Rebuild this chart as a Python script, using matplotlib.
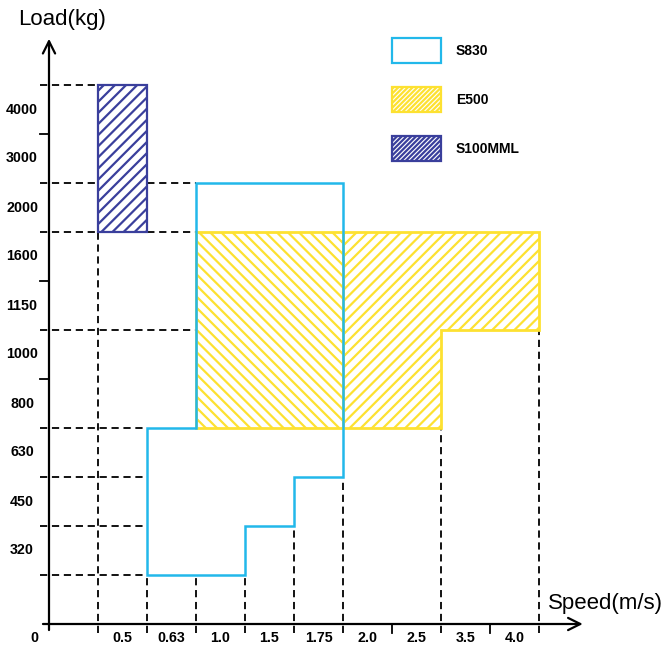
import matplotlib
matplotlib.use('Agg')
from matplotlib import pyplot as plt
from matplotlib.patches import Polygon, Rectangle

plt.rcParams['font.family'] = ['Liberation Sans', 'DejaVu Sans']
plt.rcParams['hatch.linewidth'] = 1.6

# categorical tick labels (one per grid cell)
speed_labels = ['0.5', '0.63', '1.0', '1.5', '1.75', '2.0', '2.5', '3.5', '4.0']
load_labels = ['320', '450', '630', '800', '1000', '1150', '1600', '2000', '3000', '4000']

# working ranges in grid cells (speed index, load index)
s830_x = [2, 4, 4, 5, 5, 6, 6, 3, 3, 2]
s830_y = [1, 1, 2, 2, 3, 3, 9, 9, 4, 4]
e500_left_x = [3, 6, 6, 3]
e500_left_y = [4, 4, 8, 8]
e500_right_x = [6, 8, 8, 10, 10, 6]
e500_right_y = [4, 4, 6, 6, 8, 8]
s100_x = [1, 2, 2, 1]
s100_y = [8, 8, 11, 11]

# dashed guides: level -> how far they reach
guide_h_levels = [1, 2, 3, 4, 6, 8, 9, 11]
guide_h_ends = [2, 2, 2, 2, 3, 3, 3, 1]
guide_v_pos = [1, 2, 3, 4, 5, 6, 8, 10]
guide_v_tops = [8, 1, 1, 1, 2, 3, 4, 6]
tick_x_only = [7, 9]
tick_y_only = [5, 7, 10]

CYAN = '#22b8ea'
YELLOW = '#fde131'
NAVY = '#3a3f9c'

fig = plt.figure(figsize=(6.7, 6.48), dpi=100)
ax = fig.add_axes([0, 0, 1, 1])
ax.set_xlim(-1, 621 / 49)
ax.set_ylim(-24 / 49, 624 / 49)
ax.axis('off')

dash = (0, (4, 2.6))
ext = -0.18

# guides
for lvl, end in zip(guide_h_levels, guide_h_ends):
    ax.plot([ext, end], [lvl, lvl], color='black', lw=1.3, ls=dash, zorder=1)
for pos, top in zip(guide_v_pos, guide_v_tops):
    ax.plot([pos, pos], [ext, top], color='black', lw=1.3, ls=dash, zorder=1)
for pos in tick_x_only:
    ax.plot([pos, pos], [ext, 0], color='black', lw=1.3, zorder=1)
for lvl in tick_y_only:
    ax.plot([ext, 0], [lvl, lvl], color='black', lw=1.3, zorder=1)

# E500
ax.add_patch(Polygon(list(zip(e500_left_x, e500_left_y)), closed=True,
                     facecolor='white', edgecolor=YELLOW, hatch='\\\\\\', lw=2, zorder=2))
ax.add_patch(Polygon(list(zip(e500_right_x, e500_right_y)), closed=True,
                     facecolor='white', edgecolor=YELLOW, hatch='///', lw=2, zorder=2))
# S100MML
ax.add_patch(Polygon(list(zip(s100_x, s100_y)), closed=True,
                     facecolor='white', edgecolor=NAVY, hatch='///', lw=1.6, zorder=2))
# S830
ax.add_patch(Polygon(list(zip(s830_x, s830_y)), closed=True,
                     facecolor='none', edgecolor=CYAN, lw=1.8, zorder=3))

# axes with arrows
arrow = dict(arrowstyle='->', lw=1.6, color='black', mutation_scale=22)
ax.annotate('', xy=(0, 12.0), xytext=(0, ext), arrowprops=arrow, zorder=4)
ax.annotate('', xy=(10.95, 0), xytext=(ext, 0), arrowprops=arrow, zorder=4)

# tick labels
for k, lab in enumerate(speed_labels):
    ax.text(k + 1.5, -0.29, lab, ha='center', va='center', fontsize=10.3, fontweight='bold')
for k, lab in enumerate(load_labels):
    ax.text(-0.55, k + 1.5, lab, ha='center', va='center', fontsize=10.3, fontweight='bold')
ax.text(-0.29, -0.29, '0', ha='center', va='center', fontsize=10.3, fontweight='bold')

ax.text(-0.64, 12.33, 'Load(kg)', ha='left', va='center', fontsize=16)
ax.text(10.18, 0.41, 'Speed(m/s)', ha='left', va='center', fontsize=16)

# legend
legend_items = [('S830', 'none', CYAN, None, 11.45),
                ('E500', 'white', YELLOW, '///////', 10.45),
                ('S100MML', 'white', NAVY, '///////', 9.45)]
for name, fc, ec, hatch, y0 in legend_items:
    ax.add_patch(Rectangle((7, y0), 1, 0.5, facecolor=fc, edgecolor=ec,
                           hatch=hatch, lw=1.6, zorder=3))
    ax.text(8.3, y0 + 0.25, name, ha='left', va='center', fontsize=10, fontweight='bold')

plt.savefig('out.png', dpi=100)
plt.close(fig)
